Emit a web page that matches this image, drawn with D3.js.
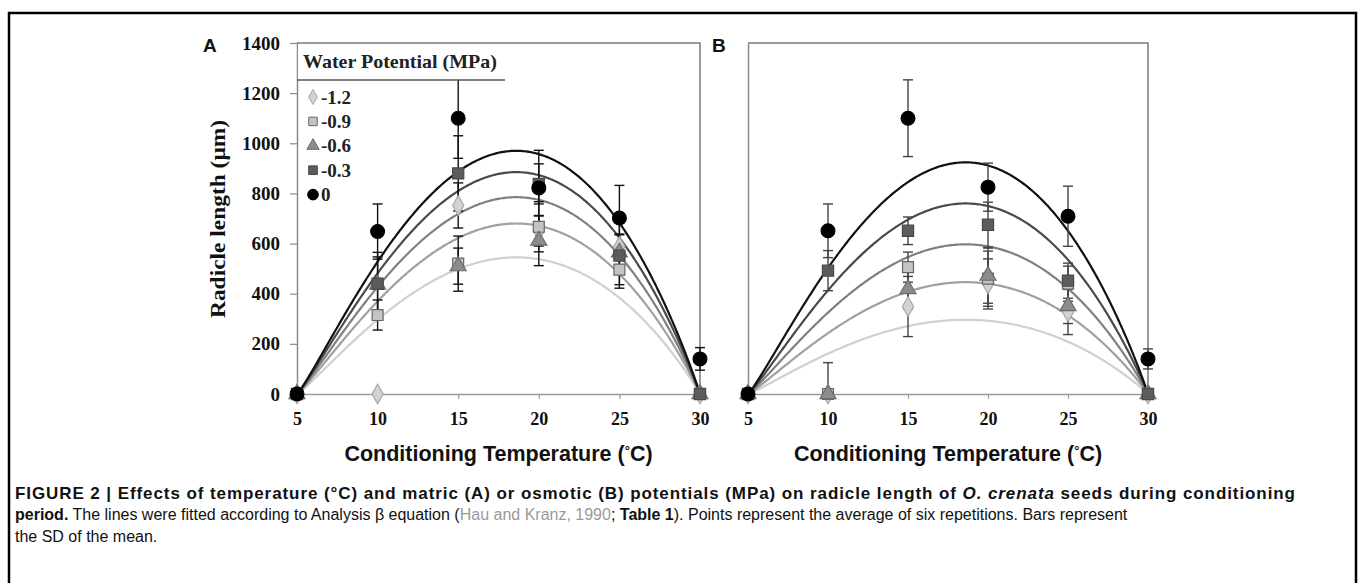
<!DOCTYPE html>
<html><head><meta charset="utf-8">
<script src="https://cdn.jsdelivr.net/npm/d3@7"></script>
<style>
body{margin:0;background:#fff;}
svg{display:block;}
</style></head>
<body>
<svg id="chart" width="1358" height="583"></svg>
<script>
// ---------------- data ----------------
const temps = [5, 10, 15, 20, 25, 30];
const seriesNames = ["-1.2", "-0.9", "-0.6", "-0.3", "0"];
const yTicks = [0, 200, 400, 600, 800, 1000, 1200, 1400];
const xTicks = [5, 10, 15, 20, 25, 30];

// Panel A (matric potential): means and SD
const A_m12 = [0, 0, 752, 650, 588, 0];
const A_m09 = [0, 315, 520, 667, 496, 0];
const A_m06 = [0, 437, 510, 612, 565, 0];
const A_m03 = [0, 440, 880, 838, 552, 0];
const A_0   = [0, 648, 1100, 822, 702, 140];
const A_sd_m12 = [0, 0, 90, 60, 50, 0];
const A_sd_m09 = [0, 60, 110, 100, 60, 0];
const A_sd_m06 = [0, 110, 72, 100, 70, 0];
const A_sd_m03 = [0, 125, 150, 80, 130, 0];
const A_sd_0   = [0, 110, 160, 150, 130, 45];
// fitted beta-curve peaks (A)
const A_peak = [545, 680, 785, 885, 970];

// Panel B (osmotic potential): means and SD
const B_m12 = [0, 0, 349, 439, 327, 0];
const B_m09 = [0, 0, 506, 460, 440, 0];
const B_m06 = [0, 0, 419, 472, 351, 0];
const B_m03 = [0, 492, 651, 675, 452, 0];
const B_0   = [0, 651, 1100, 825, 709, 140];
const B_sd_m12 = [0, 0, 120, 100, 90, 0];
const B_sd_m09 = [0, 0, 60, 110, 70, 0];
const B_sd_m06 = [0, 125, 80, 110, 70, 0];
const B_sd_m03 = [0, 80, 55, 90, 70, 0];
const B_sd_0   = [0, 107, 153, 96, 120, 40];
// fitted beta-curve peaks (B)
const B_peak = [296, 446, 597, 760, 924];

// beta equation parameters (Tmin, Topt, Tmax, shape)
const betaParams = [5, 18.6, 30, 1.15];

// ---------------- styles ----------------
const markerType = [d3.symbolDiamond, d3.symbolSquare, d3.symbolTriangle, d3.symbolSquare, d3.symbolCircle];
const markerFill = ["#d2d2d2", "#c4c4c4", "#8c8c8c", "#5c5c5c", "#000000"];
const markerStroke = ["#a8a8a8", "#666666", "#6e6e6e", "#4a4a4a", "#000000"];
const markerSize = [110, 120, 110, 125, 150];
const lineColor = ["#d0d0d0", "#a0a0a0", "#808080", "#4a4a4a", "#111111"];
const serif = "'Liberation Serif', 'Times New Roman', serif";
const sans = "'Liberation Sans', Arial, sans-serif";

const svg = d3.select("#chart");

// outer frame
svg.append("path").attr("d", "M9,600 V13 H1356 V600")
  .attr("fill", "none").attr("stroke", "#000").attr("stroke-width", 2.5);

const yScale = d3.scaleLinear().domain([0, 1400]).range([394, 43]);

function betaCurve(T, peak) {
  const [tmin, topt, tmax, a] = betaParams;
  if (T <= tmin || T >= tmax) return 0;
  const b = a * (tmax - topt) / (topt - tmin);
  return peak * Math.pow((T - tmin) / (topt - tmin), a) * Math.pow((tmax - T) / (tmax - topt), b);
}

function drawPanel(x0, x1, means, sds, peaks, opts) {
  const x = d3.scaleLinear().domain([5, 30]).range([x0, x1]);
  const y = yScale;
  const g = svg.append("g");

  // axes
  const xAxis = d3.axisBottom(x).tickValues(xTicks).tickSize(5).tickFormat(d3.format("d"));
  const gx = g.append("g").attr("transform", `translate(0,${y(0)})`).call(xAxis);
  gx.select(".domain").attr("stroke", "#9a9a9a").attr("stroke-width", 1.5);
  gx.selectAll(".tick line").attr("stroke", "#9a9a9a").attr("stroke-width", 1.2);
  gx.selectAll(".tick text").attr("dy", "1.25em")
    .style("font-family", serif)
    .style("font-weight", "bold").style("font-size", "18px").attr("fill", "#111");

  const yAxis = d3.axisLeft(y).tickValues(yTicks).tickSize(opts.yLabels ? 7 : 0)
    .tickSizeOuter(0).tickFormat(d3.format("d"));
  const gy = g.append("g").attr("transform", `translate(${x0},0)`).call(yAxis);
  gy.select(".domain").attr("stroke", "#8a8a8a").attr("stroke-width", 1.5);
  gy.selectAll(".tick line").attr("stroke", "#8a8a8a").attr("stroke-width", 1.2);
  if (opts.yLabels) {
    gy.selectAll(".tick text").attr("x", -17)
      .style("font-family", serif)
      .style("font-weight", "bold").style("font-size", "19px").attr("fill", "#111");
  } else {
    gy.selectAll(".tick text").remove();
  }
  // top & right border
  g.append("path").attr("d", `M${x0},${y(1400)} H${x1} V${y(0)}`)
    .attr("fill", "none").attr("stroke", "#7a7a7a").attr("stroke-width", 1.5);

  // fitted lines
  const fine = d3.range(5, 30.001, 0.1);
  const line = d3.line().x(d => x(d[0])).y(d => y(d[1]));
  peaks.forEach((p, i) => {
    g.append("path").datum(fine.map(t => [t, betaCurve(t, p)]))
      .attr("d", line).attr("fill", "none")
      .attr("stroke", lineColor[i]).attr("stroke-width", 2.2);
  });

  // error bars
  means.forEach((vals, i) => {
    vals.forEach((v, j) => {
      const s = sds[i][j];
      if (!s) return;
      const xx = x(temps[j]);
      const lo = Math.max(0, v - s), hi = v + s;
      const eb = g.append("g").attr("stroke", opts.errColor).attr("stroke-width", 1.4);
      eb.append("line").attr("x1", xx).attr("x2", xx).attr("y1", y(lo)).attr("y2", y(hi));
      eb.append("line").attr("x1", xx - 5).attr("x2", xx + 5).attr("y1", y(hi)).attr("y2", y(hi));
      if (lo > 0) eb.append("line").attr("x1", xx - 5).attr("x2", xx + 5).attr("y1", y(lo)).attr("y2", y(lo));
    });
  });

  // points
  means.forEach((vals, i) => {
    g.append("g").selectAll("path").data(vals).join("path")
      .attr("transform", (d, j) => `translate(${x(temps[j])},${y(d)})`)
      .attr("d", d3.symbol().type(markerType[i]).size(markerSize[i]))
      .attr("fill", markerFill[i]).attr("stroke", markerStroke[i]).attr("stroke-width", 1.2);
  });

  // x axis title
  const t = g.append("text").attr("x", (x0 + x1) / 2).attr("y", 461).attr("text-anchor", "middle")
    .style("font-family", sans).style("font-weight", "bold")
    .style("font-size", "21.5px").attr("fill", "#111");
  t.append("tspan").text("Conditioning Temperature (");
  t.append("tspan").text("°").attr("dy", -6).style("font-size", "13px");
  t.append("tspan").text("C)").attr("dy", 6);

  // panel letter
  g.append("text").attr("x", opts.letterX).attr("y", 52).text(opts.letter)
    .style("font-family", sans).style("font-weight", "bold")
    .style("font-size", "19px").attr("fill", "#111");
  return { x, g };
}

drawPanel(297, 700,
  [A_m12, A_m09, A_m06, A_m03, A_0],
  [A_sd_m12, A_sd_m09, A_sd_m06, A_sd_m03, A_sd_0],
  A_peak, { yLabels: true, errColor: "#111", letter: "A", letterX: 203 });

drawPanel(748, 1148,
  [B_m12, B_m09, B_m06, B_m03, B_0],
  [B_sd_m12, B_sd_m09, B_sd_m06, B_sd_m03, B_sd_0],
  B_peak, { yLabels: false, errColor: "#444", letter: "B", letterX: 712 });

// y-axis title
svg.append("text").attr("transform", "translate(225,219) rotate(-90)").attr("text-anchor", "middle")
  .style("font-family", serif).style("font-weight", "bold")
  .style("font-size", "21px").attr("fill", "#111")
  .attr("textLength", 198).attr("lengthAdjust", "spacingAndGlyphs")
  .text("Radicle length (μm)");

// legend (panel A)
const lg = svg.append("g");
lg.append("rect").attr("x", 298).attr("y", 44).attr("width", 207).attr("height", 36).attr("fill", "#fff");
lg.append("line").attr("x1", 297).attr("x2", 505).attr("y1", 80).attr("y2", 80)
  .attr("stroke", "#555").attr("stroke-width", 1.5);
lg.append("text").attr("x", 303).attr("y", 68).text("Water Potential (MPa)")
  .style("font-family", serif).style("font-weight", "bold")
  .style("font-size", "19px").attr("fill", "#222")
  .attr("textLength", 194).attr("lengthAdjust", "spacingAndGlyphs");
seriesNames.forEach((name, i) => {
  const yy = 97 + i * 24.4;
  lg.append("path").attr("transform", `translate(313,${yy})`)
    .attr("d", d3.symbol().type(markerType[i]).size(markerSize[i] * 0.6))
    .attr("fill", markerFill[i]).attr("stroke", markerStroke[i]).attr("stroke-width", 1);
  lg.append("text").attr("x", 321).attr("y", yy + 6.5).text(name)
    .style("font-family", serif).style("font-weight", "bold")
    .style("font-size", "19px").attr("fill", "#222");
});

// caption
const cap = svg.append("g").style("font-family", sans).attr("fill", "#111");
const l1 = cap.append("text").attr("x", 15).attr("y", 499).style("font-weight", "bold")
  .style("font-size", "17px")
  .attr("textLength", 1280).attr("lengthAdjust", "spacing");
l1.append("tspan").text("FIGURE 2 | Effects of temperature (°C) and matric (A) or osmotic (B) potentials (MPa) on radicle length of ");
l1.append("tspan").text("O. crenata").style("font-style", "italic");
l1.append("tspan").text(" seeds during conditioning");
const l2 = cap.append("text").attr("x", 15).attr("y", 520).style("font-size", "16px");
l2.append("tspan").text("period.").style("font-weight", "bold");
l2.append("tspan").text(" The lines were fitted according to Analysis β equation (");
l2.append("tspan").text("Hau and Kranz, 1990").attr("fill", "#9a9a9a");
l2.append("tspan").text("; ");
l2.append("tspan").text("Table 1").style("font-weight", "bold");
l2.append("tspan").text("). Points represent the average of six repetitions. Bars represent");
cap.append("text").attr("x", 15).attr("y", 542).style("font-size", "16px").text("the SD of the mean.");
</script>
</body></html>
